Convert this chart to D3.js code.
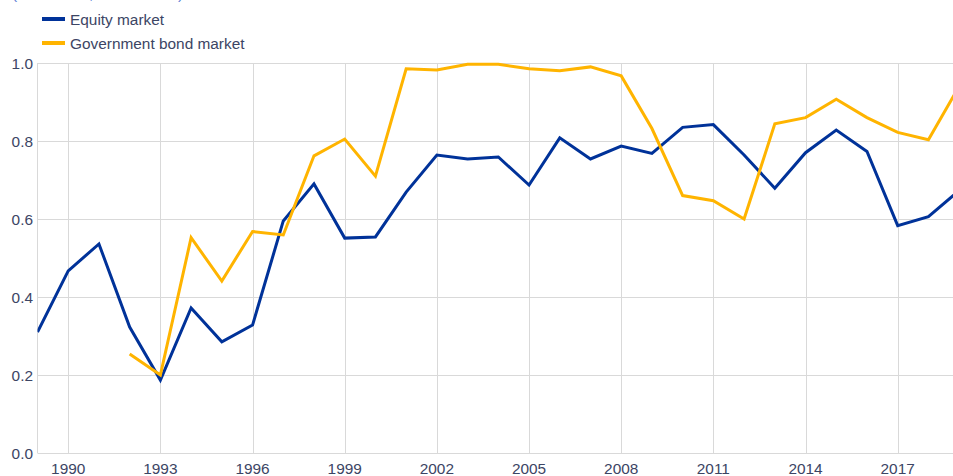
<!DOCTYPE html>
<html>
<head>
<meta charset="utf-8">
<script src="https://cdn.jsdelivr.net/npm/d3@7"></script>
<style>
  body { margin: 0; background: #fff; }
  svg { display: block; font-family: "Liberation Sans", Arial, sans-serif; }
</style>
</head>
<body>
<div id="chart"></div>
<script>
const width = 953;
const height = 476;

const years = d3.range(1989, 2020);
const equity = [0.310, 0.467, 0.536, 0.323, 0.187, 0.372, 0.285, 0.328, 0.595, 0.690,
  0.551, 0.554, 0.669, 0.764, 0.754, 0.759, 0.687, 0.808, 0.754, 0.787,
  0.768, 0.835, 0.842, 0.764, 0.679, 0.770, 0.828, 0.773, 0.583, 0.606, 0.673];
const bonds = [null, null, null, 0.254, 0.200, 0.552, 0.441, 0.568, 0.559, 0.762,
  0.805, 0.710, 0.985, 0.982, 0.997, 0.997, 0.985, 0.980, 0.990, 0.967,
  0.832, 0.660, 0.647, 0.600, 0.844, 0.860, 0.907, 0.860, 0.822, 0.803, 0.940];
const xTicks = [1990, 1993, 1996, 1999, 2002, 2005, 2008, 2011, 2014, 2017];
const yTicks = [0, 0.2, 0.4, 0.6, 0.8, 1.0];
const seriesNames = ['Equity market', 'Government bond market'];
const seriesColours = ['#003299', '#ffb400'];

const margin = { top: 63, right: 0, bottom: 23, left: 37.5 };
const fontSize = 15.4;

const svg = d3.select('#chart')
  .append('svg')
  .attr('width', width)
  .attr('height', height);

const x = d3.scaleLinear()
  .domain([1989, 2018.8])
  .range([margin.left, width - margin.right]);

const y = d3.scaleLinear()
  .domain([0, 1])
  .range([height - margin.bottom, margin.top]);

// subtitle, mostly above the visible area as in the original
svg.append('text')
  .attr('x', 12)
  .attr('y', -1)
  .attr('fill', '#5b7fd6')
  .attr('font-size', fontSize)
  .text('(correlation, annual data)');

// grid
svg.append('g')
  .selectAll('line')
  .data(yTicks)
  .join('line')
  .attr('x1', margin.left)
  .attr('x2', width)
  .attr('y1', (d) => Math.round(y(d)) + 0.5)
  .attr('y2', (d) => Math.round(y(d)) + 0.5)
  .attr('stroke', '#d9d9d9');

svg.append('g')
  .selectAll('line')
  .data(xTicks)
  .join('line')
  .attr('x1', (d) => Math.round(x(d)) + 0.5)
  .attr('x2', (d) => Math.round(x(d)) + 0.5)
  .attr('y1', y(1))
  .attr('y2', y(0))
  .attr('stroke', '#d9d9d9');

svg.append('line')
  .attr('x1', margin.left)
  .attr('x2', margin.left)
  .attr('y1', y(1))
  .attr('y2', y(0))
  .attr('stroke', '#d9d9d9');

// axis labels
svg.append('g')
  .selectAll('text')
  .data(yTicks)
  .join('text')
  .attr('x', 33)
  .attr('y', (d) => y(d) + 5.5)
  .attr('text-anchor', 'end')
  .attr('font-size', fontSize)
  .attr('fill', '#3c4564')
  .text((d) => d3.format('.1f')(d));

svg.append('g')
  .selectAll('text')
  .data(xTicks)
  .join('text')
  .attr('x', (d) => x(d))
  .attr('y', 474)
  .attr('text-anchor', 'middle')
  .attr('font-size', fontSize)
  .attr('fill', '#3c4564')
  .text((d) => d);

// lines
svg.append('clipPath')
  .attr('id', 'plot-clip')
  .append('rect')
  .attr('x', margin.left)
  .attr('y', 0)
  .attr('width', width - margin.left)
  .attr('height', height);

const line = d3.line()
  .defined((d) => d[1] !== null)
  .x((d) => x(d[0]))
  .y((d) => y(d[1]));

[equity, bonds].forEach((values, i) => {
  svg.append('path')
    .datum(years.map((yr, j) => [yr, values[j]]))
    .attr('clip-path', 'url(#plot-clip)')
    .attr('fill', 'none')
    .attr('stroke', seriesColours[i])
    .attr('stroke-width', 3)
    .attr('d', line);
});

// legend
const legend = svg.append('g')
  .selectAll('g')
  .data(seriesNames)
  .join('g')
  .attr('transform', (d, i) => `translate(42, ${19 + i * 24})`);

legend.append('line')
  .attr('x1', 0)
  .attr('x2', 23)
  .attr('stroke', (d, i) => seriesColours[i])
  .attr('stroke-width', 4);

legend.append('text')
  .attr('x', 28)
  .attr('y', 5.5)
  .attr('font-size', fontSize)
  .attr('fill', '#3c4564')
  .text((d) => d);
</script>
</body>
</html>
